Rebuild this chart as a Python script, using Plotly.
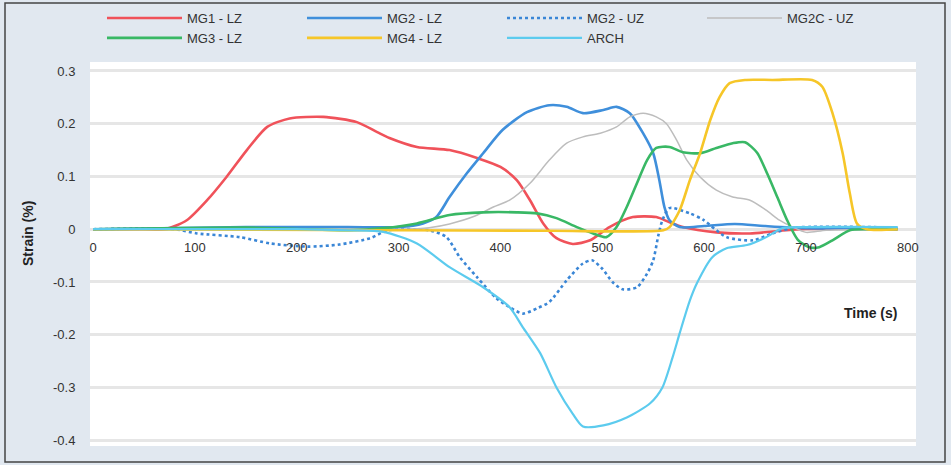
import plotly.graph_objects as go

# ---- data ----
mg1_lz_x = [0, 50, 71, 92, 112, 131, 151, 171, 193, 226, 259, 279, 291, 318, 350, 377, 400, 416, 429, 442, 455, 471, 488, 507, 530, 553, 566, 579, 612, 645, 694, 790]
mg1_lz_y = [0, 0, 0, 0.017, 0.055, 0.099, 0.15, 0.194, 0.21, 0.213, 0.203, 0.184, 0.173, 0.156, 0.15, 0.135, 0.118, 0.093, 0.055, 0.011, -0.017, -0.028, -0.021, 0.004, 0.023, 0.023, 0.013, 0.004, -0.006, -0.008, 0, 0]

mg2_lz_x = [0, 150, 250, 300, 324, 337, 350, 367, 383, 402, 426, 448, 465, 481, 501, 514, 527, 540, 550, 556, 561, 566, 576, 600, 630, 660, 700, 790]
mg2_lz_y = [0, 0.004, 0.004, 0.004, 0.011, 0.023, 0.061, 0.106, 0.144, 0.188, 0.222, 0.235, 0.232, 0.22, 0.226, 0.232, 0.22, 0.182, 0.144, 0.093, 0.042, 0.017, 0.004, 0.006, 0.01, 0.006, 0.002, 0.002]

mg2_uz_x = [0, 80, 102, 144, 174, 210, 242, 272, 290, 330, 347, 360, 377, 396, 409, 422, 436, 448, 465, 481, 490, 500, 510, 520, 534, 544, 550, 555, 559, 566, 586, 599, 622, 648, 667, 690, 790]
mg2_uz_y = [0, 0, -0.008, -0.015, -0.027, -0.033, -0.029, -0.017, -0.002, -0.002, -0.015, -0.053, -0.091, -0.131, -0.148, -0.16, -0.15, -0.138, -0.097, -0.065, -0.059, -0.075, -0.1, -0.114, -0.11, -0.084, -0.059, -0.012, 0.017, 0.04, 0.03, 0.018, -0.015, -0.021, -0.008, 0.003, 0.003]

mg2c_uz_x = [0, 300, 330, 350, 375, 393, 409, 429, 448, 465, 481, 498, 514, 527, 540, 553, 563, 573, 583, 596, 612, 628, 645, 661, 674, 687, 700, 720, 790]
mg2c_uz_y = [0, 0, 0.003, 0.01, 0.025, 0.042, 0.055, 0.087, 0.131, 0.163, 0.175, 0.182, 0.194, 0.213, 0.22, 0.213, 0.2, 0.169, 0.131, 0.099, 0.074, 0.061, 0.055, 0.036, 0.017, 0.004, -0.006, -0.002, 0]

mg3_lz_x = [0, 150, 252, 285, 318, 350, 383, 416, 436, 455, 475, 491, 504, 514, 524, 534, 544, 553, 566, 579, 596, 612, 628, 640, 652, 662, 672, 682, 692, 703, 713, 726, 743, 760, 790]
mg3_lz_y = [0, 0.003, -0.002, 0.002, 0.011, 0.027, 0.032, 0.032, 0.03, 0.021, 0.004, -0.008, -0.015, 0.004, 0.042, 0.087, 0.131, 0.154, 0.156, 0.146, 0.144, 0.154, 0.163, 0.165, 0.145, 0.105, 0.06, 0.015, -0.02, -0.034, -0.034, -0.021, -0.002, 0, 0]

mg4_lz_x = [0, 300, 450, 560, 566, 576, 586, 596, 606, 615, 625, 640, 667, 706, 716, 726, 736, 743, 750, 760, 790]
mg4_lz_y = [0, -0.002, -0.003, -0.002, 0.004, 0.036, 0.093, 0.144, 0.207, 0.25, 0.277, 0.283, 0.283, 0.283, 0.27, 0.22, 0.144, 0.068, 0.011, 0, 0]

arch_x = [0, 200, 252, 285, 318, 350, 383, 409, 422, 439, 455, 471, 481, 501, 524, 547, 559, 569, 576, 586, 593, 608, 622, 642, 661, 677, 700, 790]
arch_y = [0, 0, -0.002, -0.005, -0.027, -0.072, -0.11, -0.148, -0.186, -0.235, -0.3, -0.35, -0.374, -0.372, -0.357, -0.33, -0.3, -0.243, -0.197, -0.135, -0.102, -0.053, -0.036, -0.03, -0.015, 0.002, 0.004, 0.004]

series = [
    ("MG1 - LZ", mg1_lz_x, mg1_lz_y, "#f0525a", 2.6, "solid"),
    ("MG2 - LZ", mg2_lz_x, mg2_lz_y, "#3f8fdb", 2.6, "solid"),
    ("MG2 - UZ", mg2_uz_x, mg2_uz_y, "#3a86d6", 2.6, "dot"),
    ("MG2C - UZ", mg2c_uz_x, mg2c_uz_y, "#bdbdbd", 1.5, "solid"),
    ("MG3 - LZ", mg3_lz_x, mg3_lz_y, "#39b865", 2.6, "solid"),
    ("MG4 - LZ", mg4_lz_x, mg4_lz_y, "#f6c628", 2.6, "solid"),
    ("ARCH", arch_x, arch_y, "#5ccbee", 2.2, "solid"),
]

x_ticks = [0, 100, 200, 300, 400, 500, 600, 700, 800]
y_ticks = [0.3, 0.2, 0.1, 0, -0.1, -0.2, -0.3, -0.4]

fig = go.Figure()
for name, xs, ys, col, w, dash in series:
    fig.add_trace(go.Scatter(x=xs, y=ys, name=name, mode="lines",
                             line=dict(color=col, width=w, dash=dash, shape="spline", smoothing=0.7)))

L, R, T, B = 90, 35, 62, 19
W, H = 951, 465
pw, ph = W - L - R, H - T - B
ymin, ymax = -0.411, 0.317
zero_pos = (0 - ymin) / (ymax - ymin)

tick_font = dict(family="Liberation Sans, Arial, sans-serif", size=13, color="#333333")

fig.update_layout(
    width=W, height=H,
    margin=dict(l=L, r=R, t=T, b=B, autoexpand=False),
    paper_bgcolor="#e1e8f0",
    plot_bgcolor="#ffffff",
    font=dict(family="Liberation Sans, Arial, sans-serif", size=13, color="#333333"),
    xaxis=dict(range=[-3, 808], tickvals=x_ticks, ticktext=[str(v) for v in x_ticks],
               showgrid=False, zeroline=False, showline=False,
               anchor="free", position=zero_pos,
               ticks="outside", ticklen=6, tickcolor="rgba(0,0,0,0)",
               tickfont=tick_font),
    yaxis=dict(range=[ymin, ymax], tickvals=y_ticks, ticktext=[("%g" % v) for v in y_ticks],
               showgrid=True, gridcolor="#e6e6e6", gridwidth=3,
               zeroline=True, zerolinecolor="#e6e6e6", zerolinewidth=3, showline=False,
               ticks="outside", ticklen=11, tickcolor="rgba(0,0,0,0)",
               tickfont=tick_font),
    legend=dict(orientation="h", xref="container", yref="container",
                x=102 / W, y=1 - 3 / H, xanchor="left", yanchor="top",
                entrywidth=110, entrywidthmode="pixels", itemwidth=75,
                bgcolor="rgba(0,0,0,0)", font=dict(size=13, color="#333333"),
                tracegroupgap=0),
    showlegend=True,
)

fig.add_annotation(text="<b>Time (s)</b>", xref="paper", yref="paper",
                   x=(870 - L) / pw, y=(H - B - 313) / ph, showarrow=False,
                   xanchor="center", yanchor="middle",
                   font=dict(size=14, color="#222222"))
fig.add_annotation(text="<b>Strain (%)</b>", xref="paper", yref="paper",
                   x=(28 - L) / pw, y=(H - B - 233) / ph, showarrow=False, textangle=-90,
                   xanchor="center", yanchor="middle",
                   font=dict(size=14, color="#222222"))

# outer frame
fig.add_shape(type="rect", xref="paper", yref="paper",
              x0=(5 - L) / pw, x1=(945 - L) / pw,
              y0=(H - B - 462) / ph, y1=(H - B - 3) / ph,
              line=dict(color="#444444", width=1.5), layer="below")

fig.write_html("out.html", config={"displayModeBar": False},
               post_script="document.body.style.margin='0';")
